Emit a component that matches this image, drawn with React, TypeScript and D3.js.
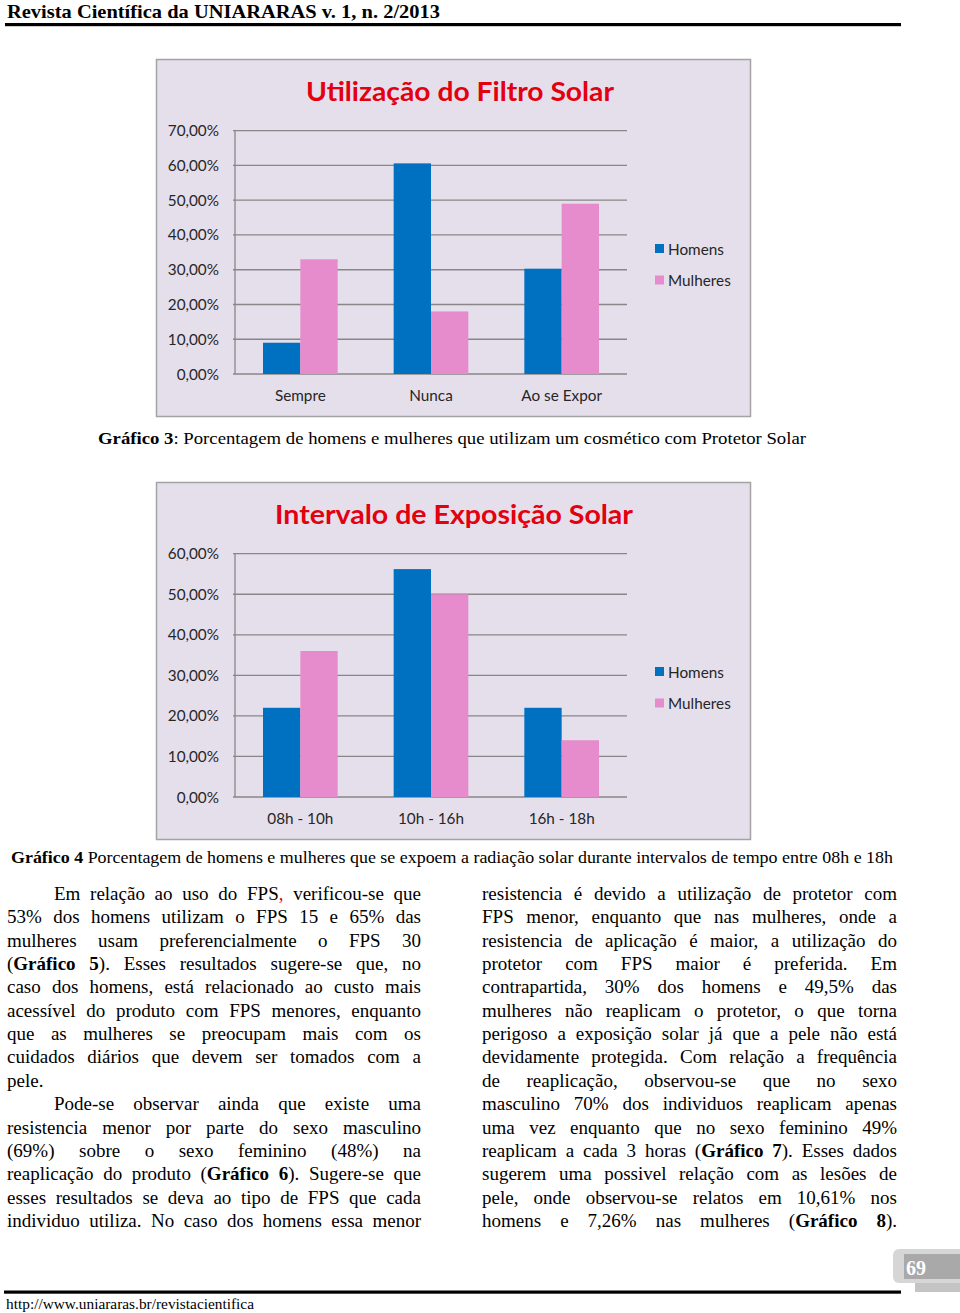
import React, { useMemo } from 'react';
import * as d3 from 'd3';

// ---------- data ----------
const seriesNames = ['Homens', 'Mulheres'];
const seriesColors = ['#0070C0', '#E68BCB'];

const chart1Title = 'Utilização do Filtro Solar';
const chart1Categories = ['Sempre', 'Nunca', 'Ao se Expor'];
const chart1Homens = [9.0, 60.6, 30.3];
const chart1Mulheres = [33.0, 18.0, 49.0];
const chart1Ticks = [0, 10, 20, 30, 40, 50, 60, 70];

const chart2Title = 'Intervalo de Exposição Solar';
const chart2Categories = ['08h - 10h', '10h - 16h', '16h - 18h'];
const chart2Homens = [22.0, 56.2, 22.0];
const chart2Mulheres = [36.0, 50.0, 14.0];
const chart2Ticks = [0, 10, 20, 30, 40, 50, 60];

const headerText = 'Revista Científica da UNIARARAS v. 1, n. 2/2013';
const footerUrl = 'http://www.uniararas.br/revistacientifica';
const pageNumber = '69';

const caption3Bold = 'Gráfico 3';
const caption3Rest = ': Porcentagem de homens e mulheres que utilizam um cosmético com Protetor Solar';
const caption4Bold = 'Gráfico 4';
const caption4Rest = ' Porcentagem de homens e mulheres que se expoem a radiação solar durante intervalos de tempo entre 08h e 18h';

// '*' toggles bold, '^' toggles red
const leftColumnLines = [
  'Em relação ao uso do FPS^,^ verificou-se que',
  '53% dos homens utilizam o FPS 15 e 65% das',
  'mulheres usam preferencialmente o FPS 30',
  '(*Gráfico 5*). Esses resultados sugere-se que, no',
  'caso dos homens, está relacionado ao custo mais',
  'acessível do produto com FPS menores, enquanto',
  'que as mulheres se preocupam mais com os',
  'cuidados diários que devem ser tomados com a',
  'pele.',
  'Pode-se observar ainda que existe uma',
  'resistencia menor por parte do sexo masculino',
  '(69%) sobre o sexo feminino (48%) na',
  'reaplicação do produto (*Gráfico 6*). Sugere-se que',
  'esses resultados se deva ao tipo de FPS que cada',
  'individuo utiliza. No caso dos homens essa menor',
];
const leftIndented = [0, 9];
const leftRagged = [8];

const rightColumnLines = [
  'resistencia é devido a utilização de protetor com',
  'FPS menor, enquanto que nas mulheres, onde a',
  'resistencia de aplicação é maior, a utilização do',
  'protetor com FPS maior é preferida. Em',
  'contrapartida, 30% dos homens e 49,5% das',
  'mulheres não reaplicam o protetor, o que torna',
  'perigoso a exposição solar já que a pele não está',
  'devidamente protegida. Com relação a frequência',
  'de reaplicação, observou-se que no sexo',
  'masculino 70% dos individuos reaplicam apenas',
  'uma vez enquanto que no sexo feminino 49%',
  'reaplicam a cada 3 horas (*Gráfico 7*). Esses dados',
  'sugerem uma possivel relação com as lesões de',
  'pele, onde observou-se relatos em 10,61% nos',
  'homens e 7,26% nas mulheres (*Gráfico 8*).',
];
const rightIndented: number[] = [];
const rightRagged: number[] = [];

// ---------- helpers ----------
const SERIF = '"Liberation Serif", "Times New Roman", serif';
const SANS = 'Lato, "Open Sans", sans-serif';
const BODY_SIZE = 19;
const LABEL_SIZE = 15.3;

const pctFormat = (v: number) => d3.format('.2f')(v).replace('.', ',') + '%';

let measureCtx: CanvasRenderingContext2D | null = null;
function measure(text: string, bold: boolean) {
  if (!measureCtx) {
    const c = document.createElement('canvas');
    measureCtx = c.getContext('2d');
  }
  const ctx = measureCtx!;
  ctx.font = `${bold ? 'bold ' : ''}${BODY_SIZE}px "Liberation Serif"`;
  return ctx.measureText(text).width;
}

type Run = { t: string; b: boolean; r: boolean };

function parseLine(line: string, state: { b: boolean; r: boolean }) {
  const words = line.split(' ');
  return words.map((w) => {
    const runs: Run[] = [];
    let cur = '';
    for (const ch of w) {
      if (ch === '*' || ch === '^') {
        if (cur) runs.push({ t: cur, b: state.b, r: state.r });
        cur = '';
        if (ch === '*') state.b = !state.b;
        else state.r = !state.r;
      } else cur += ch;
    }
    if (cur) runs.push({ t: cur, b: state.b, r: state.r });
    const width = runs.reduce((s, r) => s + measure(r.t, r.b), 0);
    return { runs, width };
  });
}

function JustifiedColumn({ lines, x0, x1, y0, lh, indent, indented, ragged }: any) {
  const state = { b: false, r: false };
  const parsed = lines.map((l: string) => parseLine(l, state));
  const out: any[] = [];
  parsed.forEach((words: any[], i: number) => {
    const start = indented.includes(i) ? x0 + indent : x0;
    const total = d3.sum(words, (w: any) => w.width);
    const spaceW = measure(' ', false);
    const gap = ragged.includes(i) || words.length < 2 ? spaceW : (x1 - start - total) / (words.length - 1);
    let x = start;
    const y = y0 + i * lh;
    words.forEach((w: any, j: number) => {
      out.push(
        <text key={`${i}-${j}`} x={x} y={y} fontFamily={SERIF} fontSize={BODY_SIZE} fill="#000">
          {w.runs.map((r: Run, k: number) => (
            <tspan key={k} fontWeight={r.b ? 'bold' : 'normal'} fill={r.r ? '#E00000' : '#000'}>
              {r.t}
            </tspan>
          ))}
        </text>
      );
      x += w.width + gap;
    });
  });
  return <g>{out}</g>;
}

function BarChart({ top, title, titleX, titleW, categories, homens, mulheres, ticks }: any) {
  const boxL = 156.5, boxW = 594, boxH = 357;
  const left = 235, right = 627;
  const yBottom = top + 315, yTop = top + 71.7;
  const y = d3.scaleLinear().domain([0, d3.max(ticks) as number]).range([yBottom, yTop]);
  const x0 = d3.scaleBand().domain(categories).range([left, right]).padding(0);
  const bw = x0.bandwidth();
  const side = (bw * 0.75) / 3.5;
  const x1 = d3.scaleBand().domain(seriesNames).range([side, bw - side]).padding(0);
  const values = [homens, mulheres];
  const gridColor = '#878787';
  return (
    <g>
      <rect x={boxL} y={top + 0.5} width={boxW} height={boxH} fill="#E5DFEC" stroke="#A3A3A3" strokeWidth={1.5} />
      <text
        x={titleX}
        y={top + 42}
        textAnchor="middle"
        fontFamily={SANS}
        fontWeight="bold"
        fontSize={26}
        fill="#E3000F"
        textLength={titleW}
        lengthAdjust="spacingAndGlyphs"
      >
        {title}
      </text>
      {ticks.map((t: number) => (
        <g key={t}>
          <line x1={left - 2} x2={right} y1={y(t)} y2={y(t)} stroke={gridColor} strokeWidth={1.3} />
          <text
            x={219}
            y={y(t)}
            dy="0.36em"
            textAnchor="end"
            fontFamily={SANS}
            fontSize={LABEL_SIZE}
            fill="#262626"
          >
            {pctFormat(t)}
          </text>
        </g>
      ))}
      <line x1={left} x2={left} y1={yTop} y2={yBottom} stroke={gridColor} strokeWidth={1.3} />
      {seriesNames.map((s, si) =>
        categories.map((c: string, ci: number) => (
          <rect
            key={`${s}-${c}`}
            x={(x0(c) as number) + (x1(s) as number)}
            y={y(values[si][ci])}
            width={x1.bandwidth()}
            height={yBottom - y(values[si][ci])}
            fill={seriesColors[si]}
          />
        ))
      )}
      {categories.map((c: string) => (
        <text
          key={c}
          x={(x0(c) as number) + bw / 2}
          y={top + 342}
          textAnchor="middle"
          fontFamily={SANS}
          fontSize={LABEL_SIZE}
          fill="#262626"
        >
          {c}
        </text>
      ))}
      {seriesNames.map((s, i) => (
        <g key={s}>
          <rect x={655} y={top + 185 + i * 31.5} width={9} height={9} fill={seriesColors[i]} />
          <text x={668} y={top + 195.5 + i * 31.5} fontFamily={SANS} fontSize={LABEL_SIZE} fill="#262626">
            {s}
          </text>
        </g>
      ))}
    </g>
  );
}

export default function App() {
  const columns = useMemo(
    () => (
      <g>
        <JustifiedColumn
          lines={leftColumnLines}
          x0={7}
          x1={421}
          y0={900}
          lh={23.35}
          indent={47}
          indented={leftIndented}
          ragged={leftRagged}
        />
        <JustifiedColumn
          lines={rightColumnLines}
          x0={482}
          x1={897}
          y0={900}
          lh={23.35}
          indent={47}
          indented={rightIndented}
          ragged={rightRagged}
        />
      </g>
    ),
    []
  );

  return (
    <svg
      width={960}
      height={1313}
      style={{ position: 'absolute', left: 0, top: 0, background: '#fff' }}
      xmlns="http://www.w3.org/2000/svg"
    >
      <rect x={0} y={0} width={960} height={1313} fill="#fff" />
      {/* header */}
      <text
        x={7}
        y={18}
        fontFamily={SERIF}
        fontWeight="bold"
        fontSize={19}
        fill="#000"
        textLength={433}
        lengthAdjust="spacingAndGlyphs"
      >
        {headerText}
      </text>
      <rect x={5} y={23} width={896} height={3.2} fill="#000" />

      <BarChart
        top={59}
        title={chart1Title}
        titleX={460}
        titleW={308}
        categories={chart1Categories}
        homens={chart1Homens}
        mulheres={chart1Mulheres}
        ticks={chart1Ticks}
      />
      <text x={98} y={443.5} fontFamily={SERIF} fontSize={17} fill="#000" textLength={708} lengthAdjust="spacingAndGlyphs">
        <tspan fontWeight="bold">{caption3Bold}</tspan>
        <tspan>{caption3Rest}</tspan>
      </text>

      <BarChart
        top={482}
        title={chart2Title}
        titleX={454}
        titleW={358}
        categories={chart2Categories}
        homens={chart2Homens}
        mulheres={chart2Mulheres}
        ticks={chart2Ticks}
      />
      <text x={11} y={863} fontFamily={SERIF} fontSize={17} fill="#000" textLength={882} lengthAdjust="spacingAndGlyphs">
        <tspan fontWeight="bold">{caption4Bold}</tspan>
        <tspan>{caption4Rest}</tspan>
      </text>

      {columns}

      {/* page number tab */}
      <rect x={893} y={1249} width={80} height={34} rx={6} fill="#D6D6D6" />
      <rect x={904} y={1254} width={60} height={25} fill="#A9A9A9" />
      <rect x={915} y={1283} width={45} height={9} fill="#C4C4C4" />
      <text x={906} y={1275} fontFamily={SERIF} fontWeight="bold" fontSize={20} fill="#fff" textLength={20} lengthAdjust="spacingAndGlyphs">
        {pageNumber}
      </text>

      {/* footer */}
      <rect x={4} y={1290.5} width={897} height={3.2} fill="#000" />
      <text x={6} y={1309} fontFamily={SERIF} fontSize={15} fill="#000" textLength={248} lengthAdjust="spacingAndGlyphs">
        {footerUrl}
      </text>
    </svg>
  );
}
